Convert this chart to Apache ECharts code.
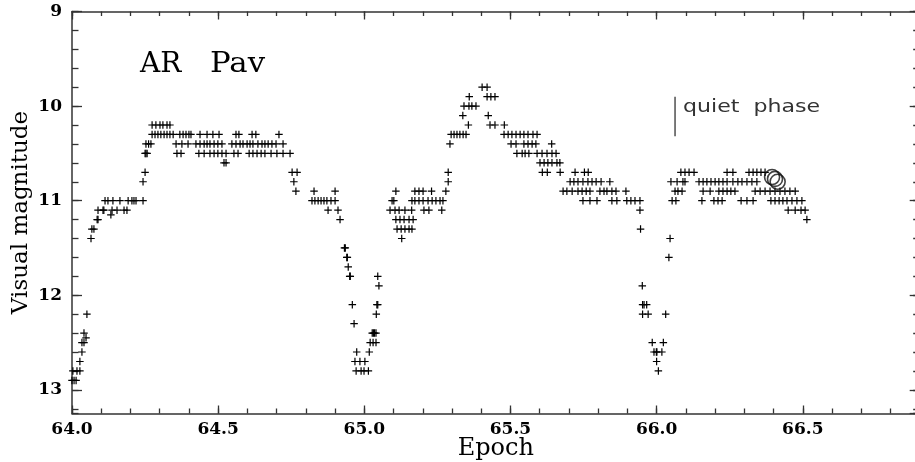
<!DOCTYPE html>
<html><head><meta charset="utf-8">
<script src="https://cdn.jsdelivr.net/npm/echarts@6/dist/echarts.min.js"></script>
<style>html,body{margin:0;padding:0;background:#fff}#c{width:915px;height:462px}</style>
</head><body><div id="c"></div>
<script>
// ---- tick labels ----
const xTickValues = [64.0, 64.5, 65.0, 65.5, 66.0, 66.5];
const yTickValues = [9, 10, 11, 12, 13];

// ---- observations [epoch, visual magnitude] ----
const riseFromMinimum1 = [
  [64.000,12.9],[64.007,12.9],[64.014,12.9],
  [64.003,12.8],[64.017,12.8],[64.027,12.8],
  [64.027,12.7],[64.034,12.6],[64.034,12.5],[64.041,12.5],
  [64.048,12.45],[64.041,12.4],[64.051,12.2],
  [64.065,11.4],[64.068,11.3],[64.075,11.3],[64.086,11.2],[64.089,11.2],
  [64.089,11.1],[64.106,11.1],[64.109,11.1],[64.137,11.1],[64.154,11.1],[64.178,11.1],[64.188,11.1],
  [64.133,11.15],
  [64.113,11.0],[64.123,11.0],[64.140,11.0],[64.164,11.0],[64.192,11.0],[64.205,11.0],[64.212,11.0],[64.219,11.0],[64.243,11.0],
  [64.243,10.8],[64.250,10.7]
];
const outburstPlateau1 = [
  [64.250,10.5],[64.253,10.5],[64.257,10.5],
  [64.253,10.4],[64.262,10.4],[64.270,10.4],
  [64.274,10.2],[64.287,10.2],[64.301,10.2],[64.311,10.2],[64.325,10.2],[64.335,10.2],
  [64.274,10.3],[64.284,10.3],[64.294,10.3],[64.304,10.3],[64.315,10.3],[64.325,10.3],[64.335,10.3],[64.346,10.3],
  [64.369,10.3],[64.380,10.3],[64.390,10.3],[64.400,10.3],[64.407,10.3],
  [64.438,10.3],[64.462,10.3],[64.482,10.3],[64.503,10.3],[64.561,10.3],[64.571,10.3],[64.616,10.3],[64.629,10.3],[64.708,10.3],
  [64.356,10.4],[64.376,10.4],[64.397,10.4],[64.424,10.4],[64.438,10.4],[64.452,10.4],[64.462,10.4],[64.472,10.4],
  [64.486,10.4],[64.499,10.4],[64.513,10.4],[64.547,10.4],[64.561,10.4],[64.575,10.4],[64.585,10.4],[64.599,10.4],
  [64.609,10.4],[64.619,10.4],[64.636,10.4],[64.650,10.4],[64.660,10.4],[64.671,10.4],[64.684,10.4],[64.698,10.4],[64.722,10.4],
  [64.359,10.5],[64.373,10.5],[64.434,10.5],[64.452,10.5],[64.472,10.5],[64.486,10.5],[64.499,10.5],[64.513,10.5],[64.527,10.5],
  [64.554,10.5],[64.568,10.5],[64.606,10.5],[64.619,10.5],[64.633,10.5],[64.647,10.5],[64.660,10.5],[64.681,10.5],
  [64.701,10.5],[64.722,10.5],[64.746,10.5],
  [64.520,10.6],[64.527,10.6],
  [64.753,10.7],[64.770,10.7],[64.759,10.8],[64.766,10.9]
];
const declineAndDip1 = [
  [64.828,10.9],[64.900,10.9],
  [64.821,11.0],[64.831,11.0],[64.842,11.0],[64.852,11.0],[64.862,11.0],[64.872,11.0],[64.886,11.0],[64.900,11.0],
  [64.876,11.1],[64.910,11.1],[64.917,11.2],
  [64.932,11.5],[64.935,11.5],[64.940,11.6],[64.942,11.6],[64.945,11.7],[64.950,11.8],[64.952,11.8],
  [65.046,11.8],[65.050,11.9],
  [64.959,12.1],[65.043,12.1],[65.046,12.1],[65.041,12.2],[64.965,12.3],
  [65.027,12.4],[65.031,12.4],[65.035,12.4],[65.040,12.4],
  [65.020,12.5],[65.030,12.5],[65.040,12.5],
  [64.974,12.6],[65.017,12.6],
  [64.968,12.7],[64.985,12.7],[65.002,12.7],
  [64.972,12.8],[64.989,12.8],[64.999,12.8],[65.014,12.8]
];
const riseToOutburst2 = [
  [65.108,10.9],[65.173,10.9],[65.187,10.9],[65.201,10.9],[65.230,10.9],[65.279,10.9],
  [65.095,11.0],[65.101,11.0],[65.163,11.0],[65.173,11.0],[65.187,11.0],[65.201,11.0],
  [65.218,11.0],[65.232,11.0],[65.245,11.0],[65.259,11.0],[65.269,11.0],
  [65.088,11.1],[65.105,11.1],[65.119,11.1],[65.139,11.1],[65.162,11.1],[65.204,11.1],[65.221,11.1],[65.265,11.1],
  [65.108,11.2],[65.122,11.2],[65.136,11.2],[65.153,11.2],[65.167,11.2],
  [65.112,11.3],[65.126,11.3],[65.139,11.3],[65.153,11.3],[65.163,11.3],
  [65.128,11.4],
  [65.287,10.8],[65.287,10.7],[65.293,10.4]
];
const outburstPeak2 = [
  [65.297,10.3],[65.307,10.3],[65.317,10.3],[65.327,10.3],[65.338,10.3],[65.348,10.3],
  [65.356,10.2],[65.337,10.1],
  [65.341,10.0],[65.358,10.0],[65.368,10.0],[65.382,10.0],
  [65.359,9.9],[65.420,9.9],[65.433,9.9],[65.447,9.9],
  [65.403,9.8],[65.420,9.8],
  [65.424,10.1],
  [65.430,10.2],[65.447,10.2],[65.479,10.2],
  [65.478,10.3],[65.492,10.3],[65.505,10.3],[65.519,10.3],[65.533,10.3],[65.546,10.3],[65.560,10.3],[65.577,10.3],[65.591,10.3],
  [65.502,10.4],[65.519,10.4],[65.546,10.4],[65.560,10.4],[65.574,10.4],[65.587,10.4],[65.641,10.4],
  [65.522,10.5],[65.540,10.5],[65.550,10.5],[65.563,10.5],[65.591,10.5],[65.608,10.5],[65.625,10.5],[65.642,10.5],[65.656,10.5],
  [65.601,10.6],[65.615,10.6],[65.628,10.6],[65.642,10.6],[65.659,10.6],[65.669,10.6],
  [65.609,10.7],[65.626,10.7],[65.670,10.7],[65.721,10.7],[65.753,10.7],[65.766,10.7]
];
const decline2 = [
  [65.704,10.8],[65.717,10.8],[65.731,10.8],[65.748,10.8],[65.765,10.8],[65.779,10.8],[65.793,10.8],[65.810,10.8],[65.840,10.8],
  [65.680,10.9],[65.693,10.9],[65.711,10.9],[65.731,10.9],[65.745,10.9],[65.759,10.9],[65.772,10.9],
  [65.806,10.9],[65.820,10.9],[65.830,10.9],[65.847,10.9],[65.861,10.9],[65.895,10.9],
  [65.748,11.0],[65.772,11.0],[65.796,11.0],[65.847,11.0],[65.864,11.0],[65.898,11.0],[65.912,11.0],[65.926,11.0],[65.943,11.0],
  [65.943,11.1],[65.945,11.3]
];
const dip2 = [
  [65.951,11.9],
  [65.952,12.1],[65.957,12.1],[65.966,12.1],
  [65.952,12.2],[65.971,12.2],[66.031,12.2],
  [65.985,12.5],[66.023,12.5],
  [65.991,12.6],[65.999,12.6],[66.001,12.6],[66.018,12.6],
  [66.000,12.7],[66.006,12.8],
  [66.042,11.6],[66.046,11.4]
];
const quietPhase = [
  [66.083,10.7],[66.097,10.7],[66.111,10.7],[66.128,10.7],[66.241,10.7],[66.261,10.7],
  [66.316,10.7],[66.330,10.7],[66.343,10.7],[66.357,10.7],[66.371,10.7],
  [66.049,10.8],[66.070,10.8],[66.090,10.8],[66.097,10.8],
  [66.145,10.8],[66.159,10.8],[66.172,10.8],[66.186,10.8],[66.200,10.8],[66.213,10.8],[66.227,10.8],[66.241,10.8],
  [66.261,10.8],[66.278,10.8],[66.292,10.8],[66.309,10.8],[66.326,10.8],[66.343,10.8],
  [66.063,10.9],[66.073,10.9],[66.087,10.9],[66.159,10.9],[66.183,10.9],
  [66.213,10.9],[66.227,10.9],[66.241,10.9],[66.254,10.9],[66.268,10.9],
  [66.337,10.9],[66.354,10.9],[66.371,10.9],[66.388,10.9],[66.405,10.9],[66.422,10.9],[66.439,10.9],[66.456,10.9],[66.474,10.9],
  [66.053,11.0],[66.066,11.0],[66.155,11.0],[66.196,11.0],[66.210,11.0],[66.224,11.0],
  [66.289,11.0],[66.309,11.0],[66.330,11.0],[66.391,11.0],[66.405,11.0],[66.419,11.0],[66.432,11.0],
  [66.446,11.0],[66.463,11.0],[66.480,11.0],[66.497,11.0],
  [66.450,11.1],[66.474,11.1],[66.494,11.1],[66.508,11.1],
  [66.514,11.2]
];
const circleMarks = [[66.395,10.75],[66.405,10.77],[66.414,10.80]];
const quietBar = [[66.063,9.90],[66.063,10.32]];

// ---- chart ----
const X_MIN = 64, X_MAX = 66.9, Y_MIN = 9, Y_MAX = 13.25;
const AXIS_COLOR = '#333';
const plusPath = 'path://M0,4.2H4.2V0H5.8V4.2H10V5.8H5.8V10H4.2V5.8H0Z';
const allPlus = [].concat(riseFromMinimum1, outburstPlateau1, declineAndDip1, riseToOutburst2,
                          outburstPeak2, decline2, dip2, quietPhase);

function isTick(list, v) { return list.some(t => Math.abs(t - v) < 1e-6); }

function xAxisDef(position, interval, tickLen, major) {
  return {
    type: 'value', position, min: X_MIN, max: X_MAX, interval,
    axisLine: { show: major, onZero: false, lineStyle: { color: AXIS_COLOR, width: 1.5 } },
    axisTick: { show: true, inside: true, length: tickLen, lineStyle: { color: AXIS_COLOR, width: 1.3 } },
    axisLabel: {
      show: major && position === 'bottom', margin: 8, showMaxLabel: false,
      fontFamily: 'DejaVu Serif', fontWeight: 'bold', fontSize: 17, color: '#000',
      formatter: v => isTick(xTickValues, v) ? v.toFixed(1) : ''
    },
    splitLine: { show: false },
    name: (major && position === 'bottom') ? 'Epoch' : '',
    nameLocation: 'middle', nameGap: 23, nameMoveOverlap: false,
    nameTextStyle: { fontFamily: 'DejaVu Serif', fontSize: 24, color: '#000' }
  };
}
function yAxisDef(position, interval, tickLen, major) {
  return {
    type: 'value', position, inverse: true, min: Y_MIN, max: Y_MAX, interval,
    axisLine: { show: major, onZero: false, lineStyle: { color: AXIS_COLOR, width: 1.5 } },
    axisTick: { show: true, inside: true, length: tickLen, lineStyle: { color: AXIS_COLOR, width: 1.3 } },
    axisLabel: {
      show: major && position === 'left', margin: 10, showMaxLabel: false,
      fontFamily: 'DejaVu Serif', fontWeight: 'bold', fontSize: 17, color: '#000',
      formatter: v => isTick(yTickValues, v) ? String(v) : ''
    },
    splitLine: { show: false },
    name: (major && position === 'left') ? 'Visual magnitude' : '',
    nameLocation: 'middle', nameGap: 39, nameRotate: 90, nameMoveOverlap: false,
    nameTextStyle: { fontFamily: 'DejaVu Serif', fontSize: 23, color: '#000' }
  };
}

const chart = echarts.init(document.getElementById('c'), null, { renderer: 'canvas' });
chart.setOption({
  animation: false,
  backgroundColor: '#fff',
  grid: { left: 72, top: 11.5, width: 847.7, height: 402, containLabel: false, outerBoundsMode: 'none' },
  xAxis: [
    xAxisDef('bottom', 0.5, 8, true),
    xAxisDef('bottom', 0.1, 5, false),
    xAxisDef('top', 0.5, 8, true),
    xAxisDef('top', 0.1, 4.5, false)
  ],
  yAxis: [
    yAxisDef('left', 1, 10, true),
    yAxisDef('left', 0.2, 6.5, false),
    yAxisDef('right', 1, 10, true),
    yAxisDef('right', 0.2, 6.5, false)
  ],
  series: [
    {
      type: 'scatter', xAxisIndex: 0, yAxisIndex: 0, data: allPlus,
      symbol: plusPath, symbolSize: 7.5, silent: true,
      itemStyle: { color: '#000', opacity: 1 }
    },
    {
      type: 'scatter', xAxisIndex: 0, yAxisIndex: 0, data: circleMarks,
      symbol: 'circle', symbolSize: 15, silent: true,
      itemStyle: { color: 'rgba(0,0,0,0)', borderColor: '#111', borderWidth: 1.6 }
    },
    {
      type: 'line', xAxisIndex: 0, yAxisIndex: 0, data: quietBar,
      showSymbol: false, symbol: 'none', silent: true,
      lineStyle: { color: '#222', width: 1.2 }
    }
  ],
  graphic: [
    { type: 'text', x: 140, y: 65, silent: true,
      style: { text: 'AR', fontFamily: 'DejaVu Serif', fontSize: 28, fill: '#000', align: 'left', verticalAlign: 'middle' } },
    { type: 'text', x: 210, y: 65, silent: true, scaleX: 1.1,
      style: { text: 'Pav', fontFamily: 'DejaVu Serif', fontSize: 28, fill: '#000', align: 'left', verticalAlign: 'middle' } },
    { type: 'text', x: 683, y: 108, silent: true, scaleX: 1.3,
      style: { text: 'quiet  phase', fontFamily: 'DejaVu Sans', fontSize: 17, fill: '#333', align: 'left', verticalAlign: 'middle' } }
  ]
});
</script>
</body></html>
